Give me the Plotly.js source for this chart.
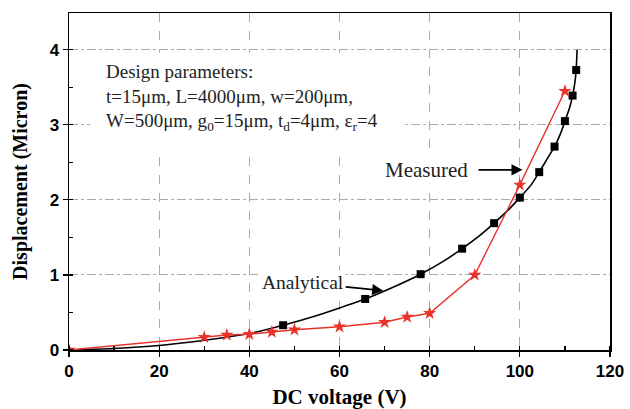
<!DOCTYPE html>
<html>
<head>
<meta charset="utf-8">
<script src="https://cdn.plot.ly/plotly-3.0.1.min.js"></script>
<style>html,body{margin:0;padding:0;background:#fff}#chart{width:630px;height:409px}</style>
</head>
<body>
<div id="chart"></div>
<script>
// Analytical curve
const analyticalCurveX = [0, 10, 20, 30, 40, 47.5, 55, 60, 65.7, 72, 78, 83, 87.2, 91, 94.3, 97.5, 100, 102.5, 104.3, 106, 107.7, 109, 110, 111, 111.7, 112.2, 112.5, 112.7];
const analyticalCurveY = [0, 0.02, 0.06, 0.13, 0.22, 0.33, 0.46, 0.56, 0.68, 0.84, 1.01, 1.18, 1.35, 1.52, 1.69, 1.87, 2.03, 2.2, 2.37, 2.54, 2.71, 2.88, 3.05, 3.22, 3.39, 3.56, 3.73, 4.0];
// Analytical markers
const analyticalMarkX = [47.5, 65.7, 78, 87.2, 94.3, 100, 104.3, 107.7, 110, 111.7, 112.5];
const analyticalMarkY = [0.33, 0.68, 1.01, 1.35, 1.69, 2.03, 2.37, 2.71, 3.05, 3.39, 3.73];
// Measured
const measuredX = [0, 30, 35, 40, 45, 50, 60, 70, 75, 80, 90, 100, 110];
const measuredY = [0, 0.17, 0.2, 0.21, 0.24, 0.27, 0.31, 0.37, 0.44, 0.49, 1.0, 2.2, 3.45];

const xTicks = [0, 20, 40, 60, 80, 100, 120];
const yTicks = [0, 1, 2, 3, 4];

const traces = [
  {x: analyticalCurveX, y: analyticalCurveY, type: 'scatter', mode: 'lines',
   line: {color: '#000', width: 1.6, shape: 'spline', smoothing: 0.6}, showlegend: false, hoverinfo: 'skip'},
  {x: analyticalMarkX, y: analyticalMarkY, type: 'scatter', mode: 'markers',
   marker: {symbol: 'square', size: 8, color: '#000'}, showlegend: false},
  {x: measuredX, y: measuredY, type: 'scatter', mode: 'lines+markers',
   line: {color: '#e8322a', width: 1.4},
   marker: {symbol: 'star', size: 10, color: '#e8322a'}, showlegend: false}
];

const serif = 'Liberation Serif, Times New Roman, serif';
const sans = 'Liberation Sans, Arial, sans-serif';

const layout = {
  width: 630, height: 409,
  margin: {l: 69, r: 20, t: 13, b: 59},
  paper_bgcolor: '#fff', plot_bgcolor: '#fff',
  xaxis: {
    range: [0, 120], tickvals: xTicks, ticktext: xTicks.map(v => '<b>' + v + '</b>'),
    ticks: 'outside', ticklen: 5, tickcolor: '#000', tickwidth: 1.2,
    showline: true, linecolor: '#000', linewidth: 1.5, mirror: true,
    showgrid: true, gridcolor: '#aaaaaa', gridwidth: 1, griddash: 'dash',
    zeroline: false,
    tickfont: {family: sans, size: 17, color: '#000'},
    minor: {dtick: 10, ticks: 'inside', ticklen: 4, tickcolor: '#000', showgrid: false},
    title: {text: '<b>DC voltage (V)</b>', font: {family: serif, size: 21, color: '#000'}, standoff: 12}
  },
  yaxis: {
    range: [0, 4.49], tickvals: yTicks, ticktext: yTicks.map(v => '<b>' + v + '</b>'),
    ticks: 'outside', ticklen: 5, tickcolor: '#000', tickwidth: 1.2,
    showline: true, linecolor: '#000', linewidth: 1.5, mirror: true,
    showgrid: true, gridcolor: '#aaaaaa', gridwidth: 1, griddash: 'dashdot',
    zeroline: false,
    tickfont: {family: sans, size: 17, color: '#000'},
    minor: {dtick: 0.5, ticks: 'inside', ticklen: 4, tickcolor: '#000', showgrid: false},
    title: {text: '<b>Displacement (Micron)</b>', font: {family: serif, size: 20, color: '#000'}, standoff: 16}
  },
  shapes: [
    {type: 'rect', layer: 'between', xref: 'x', yref: 'y', x0: 4.7, x1: 73.9, y0: 2.63, y1: 3.96,
     fillcolor: '#fff', line: {width: 0}}
  ],
  annotations: [
    {xref: 'x', yref: 'y', x: 7.9, y: 3.36, xanchor: 'left', yanchor: 'middle', align: 'left', showarrow: false,
     text: 'Design parameters:<br>t=15μm, L=4000μm, w=200μm,<br>W=500μm, g<sub>0</sub>=15μm, t<sub>d</sub>=4μm, ε<sub>r</sub>=4',
     font: {family: serif, size: 19, color: '#222'}, borderpad: 0},
    {xref: 'x', yref: 'y', x: 100.6, y: 2.4, ax: -96, ay: 0, showarrow: true,
     text: 'Measured', font: {family: serif, size: 21, color: '#222'}, bgcolor: '#fff', borderpad: 1,
     arrowhead: 2, arrowsize: 1.3, arrowwidth: 1.7, arrowcolor: '#000', startstandoff: 9},
    {xref: 'x', yref: 'y', x: 69.7, y: 0.79, ax: -80, ay: -8, showarrow: true,
     text: 'Analytical', font: {family: serif, size: 19.5, color: '#222'}, bgcolor: '#fff', borderpad: 1,
     arrowhead: 2, arrowsize: 1.3, arrowwidth: 1.7, arrowcolor: '#000'}
  ]
};

Plotly.newPlot('chart', traces, layout, {displayModeBar: false, staticPlot: true});
</script>
</body>
</html>
